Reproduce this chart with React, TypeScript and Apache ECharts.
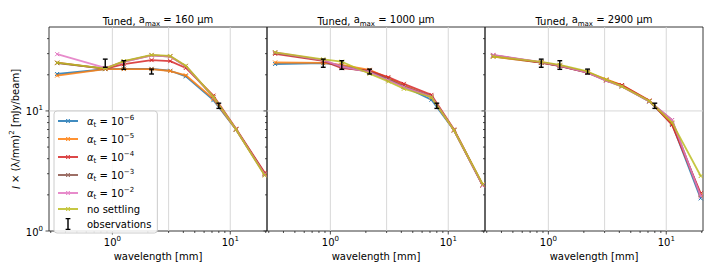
import React, { useEffect, useRef } from 'react';
import * as echarts from 'echarts';

// ---------------- data ----------------
const wavelengths = [0.34, 0.87, 1.25, 2.15, 3.1, 4.2, 7.2, 11.2, 19.6];
const obsWavelengths = [0.87, 1.25, 2.15, 8.0];
const obsValues = [25.0, 24.1, 21.3, 11.0];
const obsLower = [23.1, 22.2, 20.3, 10.5];
const obsUpper = [27.0, 26.2, 22.3, 11.6];

const seriesNames = ['αt = 10−6', 'αt = 10−5', 'αt = 10−4', 'αt = 10−3', 'αt = 10−2', 'no settling'];
const seriesExponents = ['−6', '−5', '−4', '−3', '−2'];
const seriesColors = ['#1f77b4', '#ff7f0e', '#d62728', '#8c564b', '#e377c2', '#bcbd22'];
const panelAmax = [160, 1000, 2900];

// rows: 1e-6, 1e-5, 1e-4, 1e-3, 1e-2, no settling
const tuned160 = [
  [20.3, 22.3, 22.4, 22.4, 21.6, 19.4, 12.3, 7.0, 3.0],
  [19.7, 22.3, 22.3, 22.3, 21.5, 19.8, 12.6, 7.0, 3.0],
  [25.2, 22.4, 24.5, 26.5, 26.0, 22.8, 13.4, 7.1, 3.05],
  [25.0, 22.5, 25.8, 29.0, 28.4, 23.6, 13.0, 7.0, 2.95],
  [29.7, 22.8, 25.6, 29.0, 28.4, 23.6, 13.0, 7.0, 2.95],
  [25.2, 22.5, 26.0, 29.3, 28.7, 23.8, 13.1, 7.0, 2.9],
];
const tuned1000 = [
  [24.6, 25.0, 24.0, 21.5, 18.5, 16.0, 12.4, 6.9, 2.4],
  [25.3, 25.1, 24.2, 22.0, 18.8, 16.3, 13.0, 6.9, 2.4],
  [29.9, 26.1, 22.7, 21.6, 19.1, 16.8, 13.6, 7.0, 2.42],
  [30.5, 26.4, 23.2, 21.2, 18.3, 16.0, 13.2, 6.9, 2.4],
  [30.8, 26.5, 23.4, 21.0, 18.0, 15.8, 13.1, 6.9, 2.4],
  [30.8, 26.9, 25.7, 20.4, 17.6, 15.3, 13.0, 6.9, 2.45],
];
const tuned2900 = [
  [28.5, 25.3, 23.7, 20.9, 18.1, 16.2, 12.0, 7.8, 1.87],
  [28.3, 25.2, 23.8, 21.0, 18.3, 16.4, 12.1, 7.9, 2.0],
  [29.0, 25.2, 23.6, 20.8, 18.0, 16.4, 12.2, 7.65, 2.06],
  [29.2, 25.4, 23.7, 20.8, 17.9, 16.0, 12.0, 8.4, 1.95],
  [29.3, 25.5, 23.8, 20.8, 17.9, 16.0, 12.0, 8.4, 1.95],
  [28.4, 25.6, 24.2, 21.3, 18.2, 16.0, 12.1, 8.0, 2.87],
];
const panelData = [tuned160, tuned1000, tuned2900];

const X_MIN = 0.29;
const X_MAX = 20.5;
const Y_MIN = 1;
const Y_MAX = 50;
const gridXValues = [1, 3, 10];
const gridYValues = [10];
const xMajorTicks = [1, 10];
const xMinorTicks = [0.3, 0.4, 0.5, 0.6, 0.7, 0.8, 0.9, 2, 3, 4, 5, 6, 7, 8, 9, 20];
const yMajorTicks = [1, 10];
const yMinorTicks = [2, 3, 4, 5, 6, 7, 8, 9, 20, 30, 40];

// ---------------- layout ----------------
const FONT = 'DejaVu Sans';
const gridLefts = [49, 267, 485];
const GRID_W = 218;
const GRID_TOP = 27;
const GRID_H = 204;

const powRich = {
  b: { fontSize: 10, fontFamily: FONT, color: '#000', lineHeight: 12, verticalAlign: 'bottom' },
  s: { fontSize: 7, fontFamily: FONT, color: '#000', lineHeight: 8, verticalAlign: 'top' },
};
const powLabel = (v: number) => {
  const e = Math.log10(v);
  const r = Math.round(e);
  if (Math.abs(e - r) > 1e-6) return '';
  return `{b|10}{s|${r}}`;
};

const legendRich: Record<string, string> = {};
seriesExponents.forEach((ex, i) => {
  legendRich[seriesNames[i]] = `{a|α}{t|t}{n| = 10}{p|${ex}}`;
});

const X_SYMBOL = 'path://M0,0L10,10M10,0L0,10';
// legend icon: line with a small "x" marker in the middle
const LINE_ICON =
  'path://M0,5.1H20V6.9H0Z' +
  'M8,4H8.8L12,7.2V8H11.2L8,4.8Z' +
  'M12,4V4.8L8.8,8H8V7.2L11.2,4Z';
const OBS_ICON = 'path://M0,0h8v2.2h-2.8v15.6h2.8v2.2h-8v-2.2h2.8v-15.6h-2.8z';

export default function App() {
  const ref = useRef<HTMLDivElement>(null);
  useEffect(() => {
    document.body.style.margin = '0';
    if (!ref.current) return;
    const chart = echarts.init(ref.current, undefined, { renderer: 'svg' });

    const series: any[] = [];
    panelData.forEach((rows, p) => {
      // grid lines
      const gdata: number[][] = [];
      gridXValues.forEach((v) => gdata.push([v, Y_MIN, 0]));
      gridYValues.forEach((v) => gdata.push([X_MIN, v, 1]));
      series.push({
        type: 'custom',
        name: 'grid' + p,
        xAxisIndex: p,
        yAxisIndex: p,
        z: 0,
        silent: true,
        data: gdata,
        renderItem: (_params: any, api: any) => {
          const kind = api.value(2);
          const a =
            kind === 0 ? api.coord([api.value(0), Y_MIN]) : api.coord([X_MIN, api.value(1)]);
          const b =
            kind === 0 ? api.coord([api.value(0), Y_MAX]) : api.coord([X_MAX, api.value(1)]);
          return {
            type: 'line',
            shape: { x1: a[0], y1: a[1], x2: b[0], y2: b[1] },
            style: { stroke: '#d3d3d3', lineWidth: 0.9 },
          };
        },
      });
      // ticks
      const tdata: number[][] = [];
      xMajorTicks.forEach((v) => tdata.push([v, Y_MIN, 3.5, 0]));
      xMinorTicks.forEach((v) => tdata.push([v, Y_MIN, 2, 0]));
      yMajorTicks.forEach((v) => tdata.push([X_MIN, v, 3.5, 1]));
      yMinorTicks.forEach((v) => tdata.push([X_MIN, v, 2, 1]));
      series.push({
        type: 'custom',
        name: 'ticks' + p,
        xAxisIndex: p,
        yAxisIndex: p,
        z: 1,
        silent: true,
        data: tdata,
        renderItem: (_params: any, api: any) => {
          const pt = api.coord([api.value(0), api.value(1)]);
          const len = api.value(2);
          const kind = api.value(3);
          const shape =
            kind === 0
              ? { x1: pt[0], y1: pt[1], x2: pt[0], y2: pt[1] + len }
              : { x1: pt[0] - len, y1: pt[1], x2: pt[0], y2: pt[1] };
          return { type: 'line', shape, style: { stroke: '#222', lineWidth: 0.8 } };
        },
      });
      // model lines
      rows.forEach((vals, k) => {
        series.push({
          type: 'line',
          name: seriesNames[k],
          xAxisIndex: p,
          yAxisIndex: p,
          z: 2 + k * 0.01,
          data: wavelengths.map((w, j) => [w, vals[j]]),
          symbol: X_SYMBOL,
          symbolSize: 4,
          showSymbol: true,
          color: seriesColors[k],
          lineStyle: { width: 1.8, color: seriesColors[k], opacity: 0.85 },
          itemStyle: { color: seriesColors[k], borderColor: seriesColors[k], borderWidth: 1 },
          emphasis: { disabled: true },
        });
      });
      // observations
      series.push({
        type: 'custom',
        name: 'observations',
        xAxisIndex: p,
        yAxisIndex: p,
        z: 3,
        color: '#000',
        data: obsWavelengths.map((w, j) => [w, obsValues[j], obsLower[j], obsUpper[j]]),
        encode: { x: 0, y: 1 },
        renderItem: (_params: any, api: any) => {
          const x = api.value(0);
          const lo = api.coord([x, api.value(2)]);
          const hi = api.coord([x, api.value(3)]);
          const w = 2.4;
          const st = { stroke: '#000', lineWidth: 1.4 };
          return {
            type: 'group',
            children: [
              { type: 'line', shape: { x1: lo[0], y1: lo[1], x2: hi[0], y2: hi[1] }, style: st },
              { type: 'line', shape: { x1: lo[0] - w, y1: lo[1], x2: lo[0] + w, y2: lo[1] }, style: st },
              { type: 'line', shape: { x1: hi[0] - w, y1: hi[1], x2: hi[0] + w, y2: hi[1] }, style: st },
            ],
          };
        },
      });
    });

    const option: any = {
      animation: false,
      backgroundColor: '#fff',
      textStyle: { fontFamily: FONT },
      grid: gridLefts.map((l) => ({
        left: l,
        top: GRID_TOP,
        width: GRID_W,
        height: GRID_H,
        show: true,
        borderColor: '#222',
        borderWidth: 0.9,
        backgroundColor: 'transparent',
      })),
      xAxis: gridLefts.map((_l, i) => ({
        type: 'log',
        logBase: 10,
        gridIndex: i,
        min: X_MIN,
        max: X_MAX,
        name: 'wavelength [mm]',
        nameLocation: 'middle',
        nameGap: 17,
        nameTextStyle: { fontSize: 10, color: '#000', fontFamily: FONT },
        axisLine: { show: false },
        axisTick: { show: false },
        splitLine: { show: false },
        minorTick: { show: false },
        axisLabel: {
          formatter: powLabel,
          margin: 4,
          color: '#000',
          rich: powRich,
          showMinLabel: true,
          showMaxLabel: true,
          hideOverlap: false,
        },
      })),
      yAxis: gridLefts.map((_l, i) => ({
        type: 'log',
        logBase: 10,
        gridIndex: i,
        min: Y_MIN,
        max: Y_MAX,
        name: i === 0 ? '{it|I} × (λ/mm){s|2} [mJy/beam]' : '',
        nameLocation: 'middle',
        nameRotate: 90,
        nameGap: 25,
        nameTextStyle: {
          fontSize: 10,
          color: '#000',
          fontFamily: FONT,
          rich: {
            it: { fontSize: 10, fontStyle: 'italic', fontFamily: FONT, color: '#000', lineHeight: 13, verticalAlign: 'bottom' },
            s: { fontSize: 7, fontFamily: FONT, color: '#000', lineHeight: 8, verticalAlign: 'top' },
          },
        },
        axisLine: { show: false },
        axisTick: { show: false },
        splitLine: { show: false },
        axisLabel: {
          show: i === 0,
          formatter: powLabel,
          margin: 6,
          color: '#000',
          rich: powRich,
          showMinLabel: true,
          showMaxLabel: true,
        },
      })),
      legend: {
        show: true,
        selectedMode: false,
        orient: 'vertical',
        left: 54,
        top: 111,
        itemWidth: 20,
        itemHeight: 12,
        itemGap: 4,
        padding: [3, 6, 3, 4],
        backgroundColor: 'rgba(255,255,255,0.85)',
        borderColor: '#cccccc',
        borderWidth: 1,
        borderRadius: 3,
        z: 10,
        data: [
          ...seriesNames.map((n, k) => ({
            name: n,
            icon: LINE_ICON,
            itemStyle: { color: seriesColors[k], opacity: 0.85, borderWidth: 0 },
          })),
          { name: 'observations', icon: OBS_ICON, itemStyle: { color: '#000', borderWidth: 0 } },
        ],
        formatter: (name: string) => legendRich[name] ?? name,
        textStyle: {
          fontSize: 10,
          fontFamily: FONT,
          color: '#000',
          padding: [0, 0, 0, 4],
          rich: {
            a: { fontSize: 10, fontStyle: 'italic', fontFamily: FONT, color: '#000', lineHeight: 14, verticalAlign: 'middle' },
            t: { fontSize: 7, fontFamily: FONT, color: '#000', lineHeight: 8, verticalAlign: 'bottom' },
            n: { fontSize: 10, fontFamily: FONT, color: '#000', lineHeight: 14, verticalAlign: 'middle' },
            p: { fontSize: 7, fontFamily: FONT, color: '#000', lineHeight: 8, verticalAlign: 'top' },
          },
        },
      },
      graphic: panelAmax.map((a, i) => ({
        type: 'text',
        x: gridLefts[i] + GRID_W / 2,
        y: 21,
        silent: true,
        style: {
          text: `Tuned, {n|a}{sub|max}{n| = ${a} μm}`,
          textAlign: 'center',
          textVerticalAlign: 'middle',
          fill: '#000',
          font: `10px "${FONT}"`,
          rich: {
            n: { fontSize: 10, fontFamily: FONT, fill: '#000', lineHeight: 13, verticalAlign: 'top' },
            sub: { fontSize: 7, fontFamily: FONT, fill: '#000', lineHeight: 9, verticalAlign: 'bottom' },
          },
        },
      })),
      series,
    };
    chart.setOption(option);
    return () => chart.dispose();
  }, []);
  return <div ref={ref} style={{ width: 711, height: 267 }} />;
}
